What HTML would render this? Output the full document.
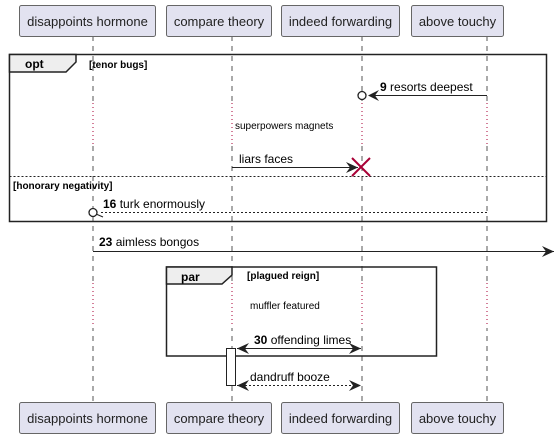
<!DOCTYPE html>
<html><head><meta charset="utf-8"><style>
html,body{margin:0;padding:0;background:#fff;}
svg{display:block;font-family:"Liberation Sans",sans-serif;}
</style></head><body>
<svg width="557" height="439" viewBox="0 0 557 439" xmlns="http://www.w3.org/2000/svg">
<!-- lifelines -->
<g stroke="#555" stroke-width="1" stroke-dasharray="5,5">
<line x1="93" y1="36" x2="93" y2="403"/>
<line x1="232" y1="36" x2="232" y2="403"/>
<line x1="362" y1="36" x2="362" y2="403"/>
<line x1="487" y1="36" x2="487" y2="403"/>
</g>
<!-- delay segments -->
<g fill="#fff" stroke="none"><rect x="88" y="102" width="10" height="44"/><rect x="227" y="102" width="10" height="44"/><rect x="357" y="102" width="10" height="44"/><rect x="482" y="102" width="10" height="44"/>
<rect x="88" y="283" width="10" height="45"/><rect x="227" y="283" width="10" height="45"/><rect x="357" y="283" width="10" height="45"/><rect x="482" y="283" width="10" height="45"/></g>
<g stroke="#a80036" stroke-width="1" stroke-dasharray="1,3">
<line x1="93" y1="103" x2="93" y2="145"/><line x1="232" y1="103" x2="232" y2="145"/><line x1="362" y1="103" x2="362" y2="145"/><line x1="487" y1="103" x2="487" y2="145"/>
<line x1="93" y1="283" x2="93" y2="327"/><line x1="232" y1="283" x2="232" y2="327"/><line x1="362" y1="283" x2="362" y2="327"/><line x1="487" y1="283" x2="487" y2="327"/>
</g>
<!-- participant boxes -->
<g fill="#e2e2f0" stroke="#666" stroke-width="1">
<rect x="19.5" y="5.5" width="136" height="31" rx="2"/><rect x="166.5" y="5.5" width="105" height="31" rx="2"/><rect x="281.5" y="5.5" width="118" height="31" rx="2"/><rect x="411.5" y="5.5" width="92" height="31" rx="2"/>
<rect x="19.5" y="402.5" width="136" height="31" rx="2"/><rect x="166.5" y="402.5" width="105" height="31" rx="2"/><rect x="281.5" y="402.5" width="118" height="31" rx="2"/><rect x="411.5" y="402.5" width="92" height="31" rx="2"/>
</g>
<g font-size="13" fill="#222" text-anchor="middle">
<text x="87.5" y="26">disappoints hormone</text><text x="219" y="26">compare theory</text><text x="340.5" y="26">indeed forwarding</text><text x="457.5" y="26">above touchy</text>
<text x="87.5" y="423">disappoints hormone</text><text x="219" y="423">compare theory</text><text x="340.5" y="423">indeed forwarding</text><text x="457.5" y="423">above touchy</text>
</g>
<!-- opt frame -->
<rect x="9.5" y="54.5" width="537" height="167" fill="none" stroke="#222" stroke-width="1.5"/>
<path d="M9.5,54.5 L76,54.5 L76,62 L66,72 L9.5,72 Z" fill="#eee" stroke="#222" stroke-width="1.5"/>
<text x="25" y="68" font-size="12" font-weight="bold">opt</text>
<text x="89" y="68" font-size="10" font-weight="bold">[tenor bugs]</text>
<line x1="9.5" y1="176.5" x2="546" y2="176.5" stroke="#222" stroke-dasharray="2,2"/>
<text x="13" y="189" font-size="10" font-weight="bold">[honorary negativity]</text>
<!-- msg 9 -->
<line x1="487" y1="95.5" x2="369" y2="95.5" stroke="#222"/>
<path d="M379,90 L368,95.5 L379,101 L375,95.5 Z" fill="#222"/>
<circle cx="362" cy="95.5" r="4" fill="#fff" stroke="#222" stroke-width="1.3"/>
<text x="380" y="91" font-size="12"><tspan font-weight="bold">9</tspan> resorts deepest</text>
<text x="235" y="129" font-size="10">superpowers magnets</text>
<!-- liars faces -->
<line x1="232" y1="167.5" x2="358" y2="167.5" stroke="#222"/>
<path d="M346,162 L358,167.5 L346,173 L350,167.5 Z" fill="#222"/>
<path d="M352,158 L370,176 M370,158 L352,176" stroke="#a80036" stroke-width="2"/>
<text x="239" y="163" font-size="12">liars faces</text>
<!-- 16 -->
<line x1="487" y1="212.5" x2="100" y2="212.5" stroke="#222" stroke-dasharray="2,2"/>
<line x1="96" y1="214" x2="103" y2="217" stroke="#222"/>
<circle cx="93" cy="212.5" r="4" fill="#fff" stroke="#222" stroke-width="1.3"/>
<text x="103" y="208" font-size="12"><tspan font-weight="bold">16</tspan> turk enormously</text>
<!-- 23 -->
<line x1="93" y1="251.5" x2="554" y2="251.5" stroke="#222"/>
<path d="M542,246 L554,251.5 L542,257 L546,251.5 Z" fill="#222"/>
<text x="99" y="246" font-size="12"><tspan font-weight="bold">23</tspan> aimless bongos</text>
<!-- par frame -->
<rect x="166.5" y="267" width="270" height="89" fill="none" stroke="#222" stroke-width="1.5"/>
<path d="M166.5,267 L232,267 L232,275 L222,284 L166.5,284 Z" fill="#eee" stroke="#222" stroke-width="1.5"/>
<text x="181" y="281" font-size="12" font-weight="bold">par</text>
<text x="247" y="279" font-size="10" font-weight="bold">[plagued reign]</text>
<text x="250" y="309" font-size="10">muffler featured</text>
<!-- activation -->
<rect x="226.5" y="348.5" width="9" height="37" fill="#fff" stroke="#222"/>
<!-- 30 -->
<line x1="237" y1="348.5" x2="361" y2="348.5" stroke="#222"/>
<path d="M249,343 L237,348.5 L249,354 L245,348.5 Z" fill="#222"/>
<path d="M349,343 L361,348.5 L349,354 L353,348.5 Z" fill="#222"/>
<text x="254" y="344" font-size="12"><tspan font-weight="bold">30</tspan> offending limes</text>
<!-- dandruff -->
<line x1="237" y1="385.5" x2="361" y2="385.5" stroke="#222" stroke-dasharray="2,2"/>
<path d="M249,380 L237,385.5 L249,391 L245,385.5 Z" fill="#222"/>
<path d="M349,380 L361,385.5 L349,391 L353,385.5 Z" fill="#222"/>
<text x="250" y="381" font-size="12">dandruff booze</text>
</svg>
</body></html>
